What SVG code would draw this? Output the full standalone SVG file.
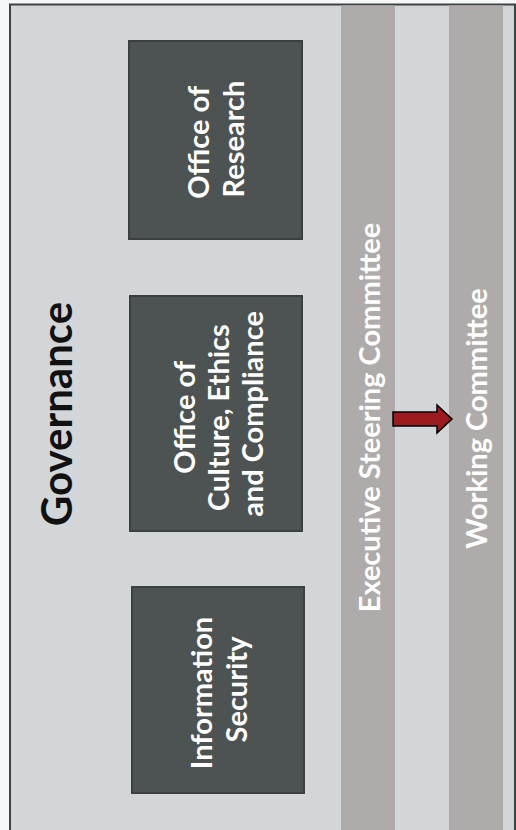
<svg xmlns="http://www.w3.org/2000/svg" width="516" height="830" viewBox="0 0 516 830">
  <style>
    .frame { fill: #d2d6d9; stroke: #3d4242; stroke-width: 2; }
    .band { fill: #afabaa; }
    .box { fill: #4d5252; stroke: #3b3f3f; stroke-width: 2; }
    .boxtxt { font-family: Lato, "Liberation Sans", sans-serif; font-size: 29px; font-weight: 700; fill: #ffffff; text-anchor: middle; }
    .bandtxt { font-family: Lato, "Liberation Sans", sans-serif; font-size: 29px; font-weight: 700; fill: #ffffff; text-anchor: middle; }
    .title { font-family: Lato, "Liberation Sans", sans-serif; font-size: 42px; font-weight: 700; fill: #111111; text-anchor: middle; }
    .arrow { fill: #9b1b1e; stroke: #000000; stroke-width: 1.5; stroke-linejoin: miter; }
  </style>
  <rect x="0" y="0" width="516" height="830" fill="#f6f7f9"/>
  <g id="governance">
    <rect class="frame" x="10" y="4.5" width="505" height="840"/>
    <text class="title" transform="rotate(-90)" x="-414" y="72">Governance</text>
  </g>
  <g id="executive-steering-committee">
    <rect class="band" x="341" y="5.5" width="54" height="830"/>
    <text class="bandtxt" transform="rotate(-90)" x="-417.5" y="380">Executive Steering Committee</text>
  </g>
  <g id="working-committee">
    <rect class="band" x="449" y="5.5" width="54" height="830"/>
    <text class="bandtxt" transform="rotate(-90)" x="-418.5" y="487">Working Committee</text>
  </g>
  <g id="office-of-research">
    <rect class="box" x="129" y="41" width="173" height="198"/>
    <text class="boxtxt" transform="rotate(-90)" x="-139" y="209">
      <tspan x="-139" y="209">Office of</tspan>
      <tspan x="-139" y="243.5">Research</tspan>
    </text>
  </g>
  <g id="office-of-culture">
    <rect class="box" x="130" y="296" width="172" height="235"/>
    <text class="boxtxt" transform="rotate(-90)" x="-414" y="194.5">
      <tspan x="-414" y="194.5">Office of</tspan>
      <tspan x="-414" y="228.5">Culture, Ethics</tspan>
      <tspan x="-414" y="262.5">and Compliance</tspan>
    </text>
  </g>
  <g id="information-security">
    <rect class="box" x="132" y="587" width="172" height="206"/>
    <text class="boxtxt" transform="rotate(-90)" x="-689.5" y="212">
      <tspan x="-689.5" y="212">Information</tspan>
      <tspan x="-689.5" y="246.5">Security</tspan>
    </text>
  </g>
  <g id="connectors">
    <path class="arrow" d="M393,412 L437,412 L437,405 L452,419 L437,433 L437,426 L393,426 Z"/>
  </g>
</svg>
